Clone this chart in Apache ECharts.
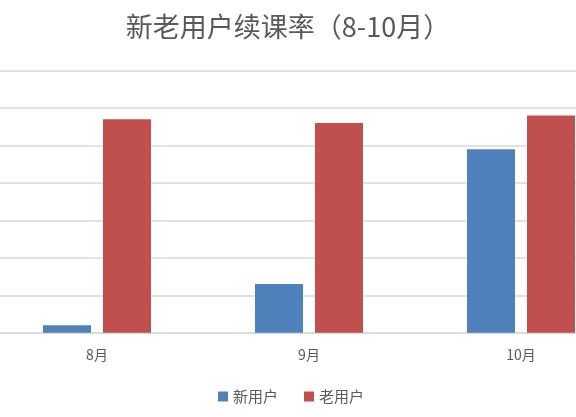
<!doctype html>
<html>
<head>
    <meta charset="utf-8">
    <title>新老用户续课率</title>
    <script src="https://cdn.jsdelivr.net/npm/echarts@6/dist/echarts.min.js"></script>
    <style>
        html, body { margin: 0; padding: 0; background: #fff; overflow: hidden; }
        /* 图表在原图中左右被裁掉一部分，这里把画布放宽后左移 */
        #echart { width: 636px; height: 417px; margin-left: -9px; }
    </style>
</head>
<body>
<div id="echart"></div>
<script>
    // 数据
    var months = ['8月', '9月', '10月'];
    var newUser = [2, 13, 49];
    var oldUser = [57, 56, 58];
    var seriesNames = ['新用户', '老用户'];

    var myChart = echarts.init(document.getElementById('echart'));
    var option = {
        backgroundColor: '#fff',
        title: {
            text: '新老用户续课率（8-10月）',
            left: 292,
            textAlign: 'center',
            top: 8,
            textStyle: {
                fontFamily: 'Noto Sans CJK SC',
                fontSize: 27,
                fontWeight: 'normal',
                color: '#595959'
            }
        },
        legend: {
            data: seriesNames,
            bottom: 8,
            left: 222,
            itemWidth: 10,
            itemHeight: 10,
            itemGap: 26,
            icon: 'rect',
            textStyle: {
                fontFamily: 'Noto Sans CJK SC',
                fontSize: 15,
                color: '#595959'
            }
        },
        grid: {
            left: 0,
            right: 0,
            top: 70.7,
            bottom: 84.3,
            containLabel: false
        },
        xAxis: {
            type: 'category',
            data: months,
            axisTick: { show: false },
            axisLine: { lineStyle: { color: '#d9d9d9', width: 1.5 } },
            axisLabel: {
                margin: 15,
                fontFamily: 'Noto Sans CJK SC',
                fontSize: 14,
                color: '#595959'
            }
        },
        yAxis: {
            type: 'value',
            min: 0,
            max: 70,
            interval: 10,
            axisLabel: { show: false },
            axisLine: { show: false },
            axisTick: { show: false },
            splitLine: { lineStyle: { color: '#d9d9d9', width: 1.5 } }
        },
        series: [
            {
                name: seriesNames[0],
                type: 'bar',
                data: newUser,
                barWidth: 48,
                barGap: '25%',
                itemStyle: { color: '#4f81bd' }
            },
            {
                name: seriesNames[1],
                type: 'bar',
                data: oldUser,
                barWidth: 48,
                itemStyle: { color: '#c0504d' }
            }
        ]
    };
    myChart.setOption(option);
</script>
</body>
</html>
